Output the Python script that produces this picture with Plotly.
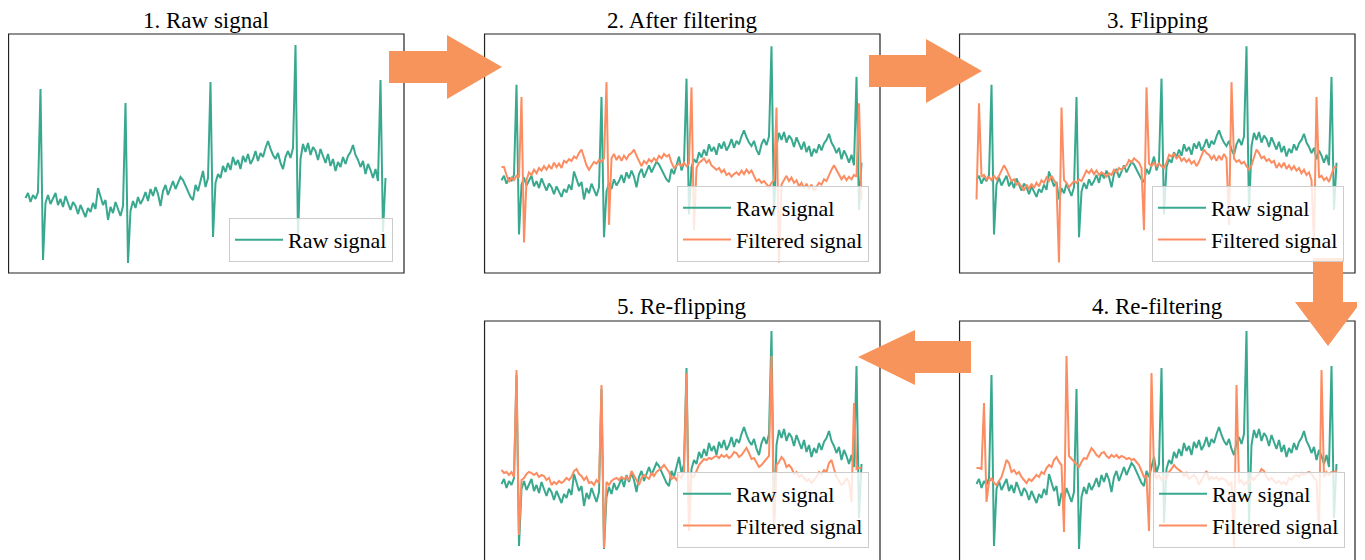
import plotly.graph_objects as go

# ---------------- data (sample index, amplitude in arbitrary units) ----------------
sample_index = list(range(145))

raw_signal = [
    2, 7, -2, 5, 1, 8, 111, -60, -3, 5,
    -4, 2, 7, -5, 1, -7, 4, -3, -10, -2,
    -6, -14, -5, -11, -17, -8, -12, -3, -9, 12,
    3, -5, 0, -20, -7, -13, -2, -9, -16, -6,
    97, -63, -11, -1, -8, 3, -4, 1, 8, -1,
    11, 4, 13, 6, -6, 9, 15, 5, 12, 19,
    11, 17, 23, 20, 14, 9, 3, 0, 15, 9,
    18, 29, 13, 22, 118, -37, 17, 26, 22, 34,
    28, 37, 30, 43, 35, 40, 31, 44, 38, 46,
    36, 41, 49, 39, 47, 43, 52, 59, 51, 45,
    41, 47, 37, 31, 43, 49, 42, 52, 155, -38,
    41, 56, 48, 57, 45, 53, 49, 40, 51, 43,
    37, 46, 34, 41, 29, 38, 33, 43, 36, 44,
    48, 55, 45, 40, 33, 39, 26, 36, 30, 22,
    31, 19, 120, -32, 22,
]

filtered_signal = [
    17, 17, 8, 0, 5, 2, 7, 5, 97, -69,
    2, 11, 8, 14, 10, 16, 13, 18, 14, 19,
    15, 22, 17, 21, 16, 24, 22, 26, 24, 29,
    27, 33, 37, 29, 19, 14, 18, 23, 21, 25,
    23, 27, 114, -49, 27, 32, 25, 30, 24, 30,
    26, 31, 33, 37, 30, 23, 18, 24, 21, 26,
    23, 27, 24, 30, 27, 32, 29, 31, 22, 16,
    18, 21, 18, 22, 18, 21, 108, -55, 16, 22,
    24, 27, 22, 25, 19, 17, 14, 16, 11, 14,
    8, 10, 6, 9, 11, 8, 13, 9, 14, 10,
    13, 7, 1, 3, -1, 1, -3, -6, -1, 2,
    85, -92, -3, 2, 7, 1, 5, -1, 2, -5,
    -1, -7, -2, -8, -3, -10, -6, -1, -3, 3,
    1, 8, 14, 19, 13, 7, 3, 7, 2, 6,
    3, 8, 6, 90, -20,
]

flipped_signal = [
    -20, 90, 6, 8, 3, 6, 2, 7, 3, 7,
    13, 19, 14, 8, 1, 3, -3, -1, -6, -10,
    -3, -8, -2, -7, -1, -5, 2, -1, 5, 1,
    7, 2, -3, -92, 85, 2, -1, -6, -3, 1,
    -1, 3, 1, 7, 13, 10, 14, 9, 13, 8,
    11, 9, 6, 10, 8, 14, 11, 16, 14, 17,
    19, 25, 22, 27, 24, 22, 16, -55, 108, 21,
    18, 22, 18, 21, 18, 16, 22, 31, 29, 32,
    27, 30, 24, 27, 23, 26, 21, 24, 18, 23,
    30, 37, 33, 31, 26, 30, 24, 30, 25, 32,
    27, -49, 114, 27, 23, 25, 21, 23, 18, 14,
    19, 29, 37, 33, 27, 29, 24, 26, 22, 24,
    16, 21, 17, 22, 15, 19, 14, 18, 13, 16,
    10, 14, 8, 11, 2, -69, 97, 5, 7, 2,
    5, 0, 8, 17, 17,
]

refiltered_signal = [
    18, 18, 17, 83, -16, 4, 8, 3, 1, 5,
    9, 17, 26, 23, 14, 16, 12, 14, 9, 6,
    3, 7, 5, 8, 11, 9, 14, 12, 18, 21,
    19, 26, 29, 24, 21, -46, 130, 30, 27, 24,
    21, 19, 24, 28, 27, 33, 38, 35, 31, 29,
    33, 34, 30, 28, 31, 29, 31, 28, 30, 29,
    27, 28, 26, 27, 24, 21, 15, 9, 10, -45,
    113, 14, 8, 11, 6, 9, 7, 14, 17, 21,
    18, 16, 14, 10, 13, 7, 9, 11, 8, 1,
    6, 11, 15, 6, 9, 7, 9, 6, 8, 7,
    5, 1, 4, -62, 101, 3, 6, 1, 4, 3,
    9, 6, 10, 12, 17, 15, 9, 6, 8, 5,
    3, 5, 2, 4, 1, 8, 6, 10, 11, 9,
    13, 11, 13, 14, 12, 8, 6, -49, 116, 9,
    14, 11, 14, 13, 16,
]

reflipped_signal = [
    16, 13, 14, 11, 14, 9, 116, -49, 6, 8,
    12, 14, 13, 11, 13, 9, 11, 10, 6, 8,
    1, 4, 2, 5, 3, 5, 8, 6, 9, 15,
    17, 12, 10, 6, 9, 3, 4, 1, 6, 3,
    101, -62, 4, 1, 5, 7, 8, 6, 9, 7,
    9, 6, 15, 11, 6, 1, 8, 11, 9, 7,
    13, 10, 14, 16, 18, 21, 17, 14, 7, 9,
    6, 11, 8, 14, 113, -45, 10, 9, 15, 21,
    24, 27, 26, 28, 27, 29, 30, 28, 31, 29,
    31, 28, 30, 34, 33, 29, 31, 35, 38, 33,
    27, 28, 24, 19, 21, 24, 27, 30, 130, -46,
    21, 24, 29, 26, 19, 21, 18, 12, 14, 9,
    11, 8, 5, 7, 3, 6, 9, 14, 12, 16,
    14, 23, 26, 17, 9, 5, 1, 3, 8, 4,
    -16, 83, 17, 18, 18,
]

panel_titles = ["1. Raw signal", "2. After filtering", "3. Flipping",
                "4. Re-filtering", "5. Re-flipping"]
series_names = ["Raw signal", "Filtered signal"]

# ---------------- styling / layout ----------------
# The page body has an 8px default margin, so the figure is drawn 8px in
# from the window's top-left corner; all window coordinates below are shifted.
OFF = 8
WIN_W, WIN_H = 1365, 560
W, H = WIN_W - OFF, WIN_H - OFF
TEAL = "#38A88E"
ORANGE = "#FC8D62"
ARROW = "#F7945B"
SERIF = "Liberation Serif, Times New Roman, serif"


def px(x):
    return (x - OFF) / W


def py(y):
    return 1 - (y - OFF) / H


# panel boxes in window pixels: (left, top, right, bottom)
panels = [
    dict(box=(8, 34, 404, 273), yr=[-73, 166], orange=None),
    dict(box=(484, 34, 880, 273), yr=[-104, 169], orange=filtered_signal),
    dict(box=(959, 34, 1355, 273), yr=[-104, 169], orange=flipped_signal),
    dict(box=(959, 321, 1355, 560), yr=[-74, 165], orange=refiltered_signal),
    dict(box=(484, 321, 880, 560), yr=[-74, 165], orange=reflipped_signal),
]
legend_pos = [(393, 262), (869, 262), (1344, 262), (1345, 548), (869, 548)]

fig = go.Figure()
layout = dict(
    width=W, height=H, margin=dict(l=0, r=0, t=0, b=0),
    paper_bgcolor="white", plot_bgcolor="white", showlegend=True,
)
shapes = []
annotations = []

for k, p in enumerate(panels):
    n = k + 1
    xa = "x" if n == 1 else f"x{n}"
    ya = "y" if n == 1 else f"y{n}"
    lg = "legend" if n == 1 else f"legend{n}"
    l, t, r, b = p["box"]
    layout["xaxis" if n == 1 else f"xaxis{n}"] = dict(
        domain=[max(px(l), 0), min(px(r), 1)], range=[-7, 151.4], anchor=ya,
        showticklabels=False, showgrid=False, zeroline=False, ticks="", showline=False)
    layout["yaxis" if n == 1 else f"yaxis{n}"] = dict(
        domain=[max(py(b), 0), min(py(t), 1)], range=p["yr"], anchor=xa,
        showticklabels=False, showgrid=False, zeroline=False, ticks="", showline=False)

    fig.add_trace(go.Scatter(
        x=sample_index, y=raw_signal, mode="lines", name=series_names[0],
        line=dict(color=TEAL, width=2), xaxis=xa, yaxis=ya, legend=lg))
    if p["orange"] is not None:
        fig.add_trace(go.Scatter(
            x=sample_index, y=p["orange"], mode="lines", name=series_names[1],
            line=dict(color=ORANGE, width=2), xaxis=xa, yaxis=ya, legend=lg))

    lx, lb = legend_pos[k]
    layout[lg] = dict(
        x=px(lx), y=py(lb), xanchor="right", yanchor="bottom",
        bgcolor="rgba(255,255,255,0.8)", bordercolor="#cccccc", borderwidth=1,
        font=dict(family=SERIF, size=22, color="black"), itemwidth=48,
        traceorder="normal")

    # frame
    y0 = py(b) if b < WIN_H else -0.03
    shapes.append(dict(type="rect", xref="paper", yref="paper",
                       x0=px(l) + 0.0004, x1=px(r), y0=y0, y1=py(t),
                       line=dict(color="#222222", width=1.2), layer="above"))
    # title
    ty = t - 13 if t < 100 else t - 15
    annotations.append(dict(text=panel_titles[k], x=px((l + r) / 2), y=py(ty),
                            xref="paper", yref="paper", xanchor="center", yanchor="middle",
                            showarrow=False, font=dict(family=SERIF, size=23, color="black")))


def arrow_path(points):
    return "M " + " L ".join(f"{px(x):.5f},{py(y):.5f}" for x, y in points) + " Z"


arrows = [
    [(389, 51), (447, 51), (447, 35), (502, 67), (447, 99), (447, 83), (389, 83)],
    [(869, 55), (926, 55), (926, 39), (982, 71), (926, 103), (926, 87), (869, 87)],
    [(1313, 258), (1343, 258), (1343, 302), (1361, 302), (1328, 346), (1295, 302), (1313, 302)],
    [(971, 341), (915, 341), (915, 330), (858, 357), (915, 385), (915, 373), (971, 373)],
]
for pts in arrows:
    shapes.append(dict(type="path", xref="paper", yref="paper", path=arrow_path(pts),
                       fillcolor=ARROW, line=dict(width=0), layer="above"))

layout["shapes"] = shapes
layout["annotations"] = annotations
fig.update_layout(**layout)
fig.write_html("out.html")
